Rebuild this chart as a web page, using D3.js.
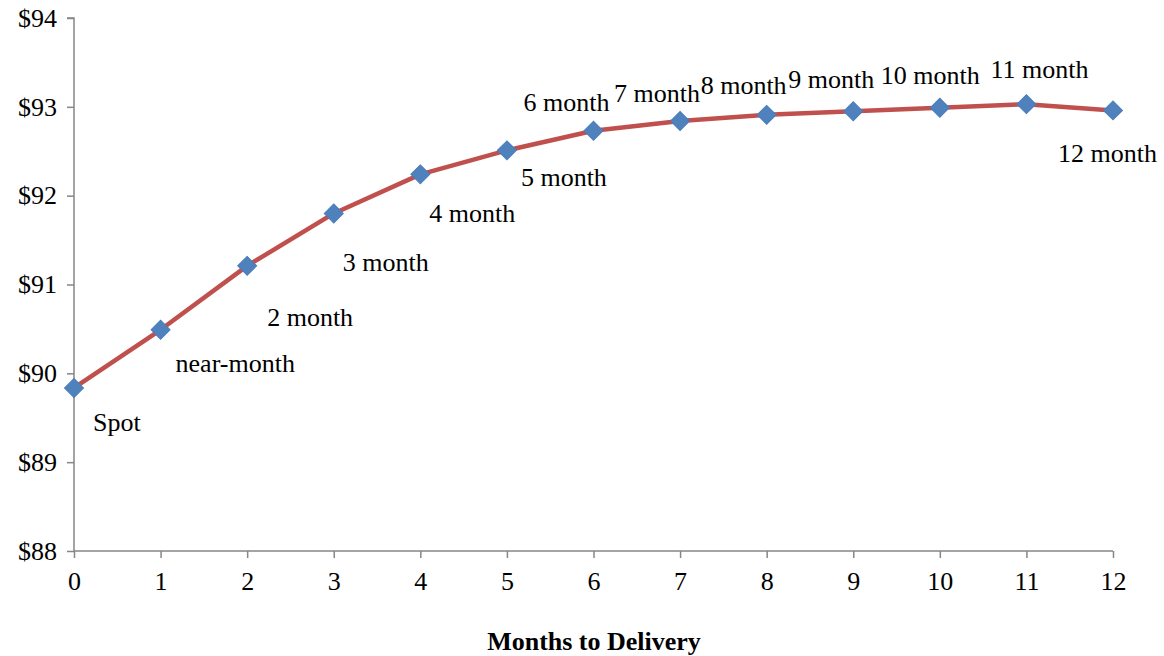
<!DOCTYPE html>
<html>
<head>
<meta charset="utf-8">
<script src="https://cdn.jsdelivr.net/npm/d3@7"></script>
<style>
  html, body { margin: 0; padding: 0; background: #fff; }
  svg text { font-family: "Liberation Serif", "Times New Roman", serif; fill: #000; }
</style>
</head>
<body>
<svg id="chart" width="1164" height="656"></svg>
<script>
// ---- data ----
const months = [0, 1, 2, 3, 4, 5, 6, 7, 8, 9, 10, 11, 12];
const prices = [89.835, 90.49, 91.21, 91.80, 92.24, 92.51, 92.73, 92.84, 92.91, 92.95, 92.99, 93.03, 92.96];
const pointLabels = ["Spot", "near-month", "2 month", "3 month", "4 month", "5 month", "6 month",
                     "7 month", "8 month", "9 month", "10 month", "11 month", "12 month"];
const yTicks = [88, 89, 90, 91, 92, 93, 94];
const xTicks = [0, 1, 2, 3, 4, 5, 6, 7, 8, 9, 10, 11, 12];
const xTitle = "Months to Delivery";

// label placement (layout only, pixel offsets from the marker)
const labelOffsets = [
  [19, 43], [15, 42], [20, 60], [9, 58], [9, 48], [14, 36], [-70, -20],
  [-66, -19], [-66, -21], [-65, -23], [-59, -24], [-36, -26], [-55, 52]
];

const svg = d3.select("#chart");
const x = d3.scaleLinear().domain([0, 12]).range([74, 1113]);
const y = d3.scaleLinear().domain([88, 94]).range([551, 18]);
const axisColor = "#868686";

// y axis
const yAxis = svg.append("g").attr("transform", "translate(74,0)")
  .call(d3.axisLeft(y).tickValues(yTicks).tickSize(7).tickPadding(10).tickFormat(d => "$" + d));
yAxis.select(".domain").attr("stroke", axisColor).attr("stroke-width", 1.5).attr("d", `M0,${y(94)}H-7H0V${y(88)}`);
yAxis.selectAll(".tick line").attr("stroke", axisColor).attr("stroke-width", 1.5);
yAxis.selectAll(".tick text").attr("font-size", 26).attr("font-family", "Liberation Serif").attr("fill", "#000");

// x axis
const xAxis = svg.append("g").attr("transform", "translate(0,551)")
  .call(d3.axisBottom(x).tickValues(xTicks).tickSize(7).tickPadding(14).tickFormat(d3.format("d")));
xAxis.select(".domain").attr("stroke", axisColor).attr("stroke-width", 1.5).attr("d", `M${x(0)},0H${x(12)}`);
xAxis.selectAll(".tick line").attr("stroke", axisColor).attr("stroke-width", 1.5);
xAxis.selectAll(".tick text").attr("font-size", 26).attr("font-family", "Liberation Serif").attr("fill", "#000");

// axis title
svg.append("text").attr("x", 594).attr("y", 650).attr("text-anchor", "middle")
  .attr("font-size", 26).attr("font-weight", "bold").text(xTitle);

const data = months.map((m, i) => ({ m, p: prices[i], label: pointLabels[i], off: labelOffsets[i] }));

// line
svg.append("path").datum(data)
  .attr("fill", "none").attr("stroke", "#C0504D").attr("stroke-width", 4.5)
  .attr("stroke-linejoin", "round")
  .attr("d", d3.line().x(d => x(d.m)).y(d => y(d.p)));

// markers
const sym = d3.symbol().type(d3.symbolSquare).size(180);
svg.append("g").selectAll("path").data(data).join("path")
  .attr("d", sym)
  .attr("transform", d => `translate(${x(d.m)},${y(d.p)}) rotate(45)`)
  .attr("fill", "#4F81BD").attr("stroke", "#4A7EBB").attr("stroke-width", 1);

// labels
svg.append("g").selectAll("text").data(data).join("text")
  .attr("x", d => x(d.m) + d.off[0])
  .attr("y", d => y(d.p) + d.off[1])
  .attr("font-size", 26)
  .text(d => d.label);
</script>
</body>
</html>
